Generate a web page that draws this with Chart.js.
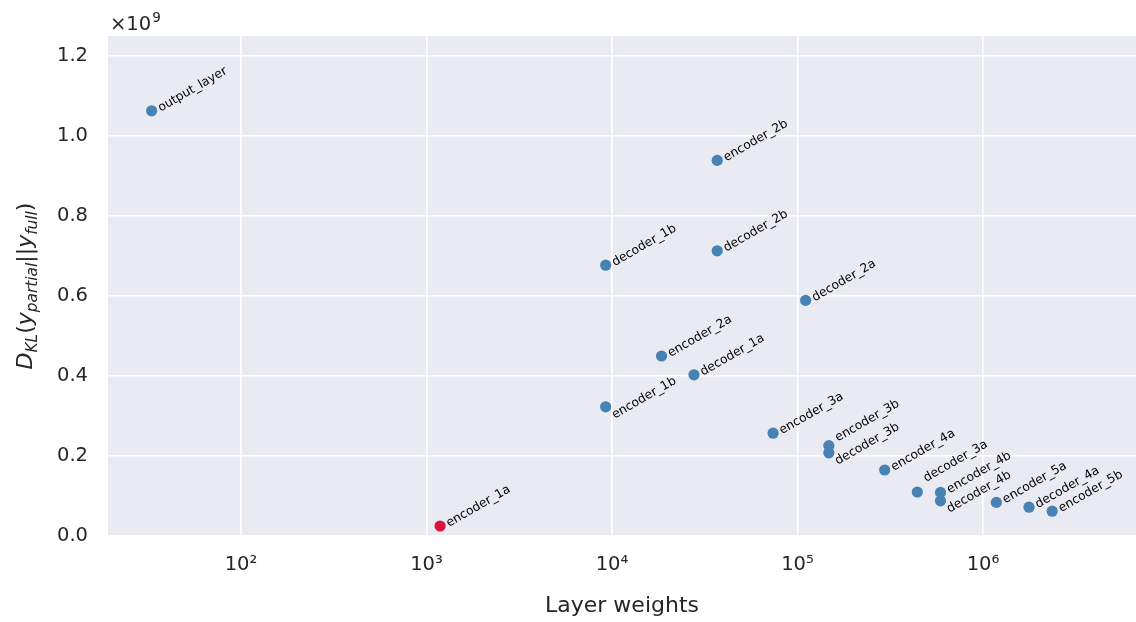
<!DOCTYPE html>
<html>
<head>
<meta charset="utf-8">
<script src="https://cdn.jsdelivr.net/npm/chart.js@4/dist/chart.umd.min.js"></script>
<style>
  html, body { margin: 0; padding: 0; background: #ffffff; }
  canvas { display: block; }
</style>
</head>
<body>
<canvas id="chart" width="1136" height="622"></canvas>
<script>
// Layers of the network, their parameter counts and the KL divergence
// between the partial and the full model output.
const layerNames = [
  'encoder_1a', 'encoder_1b', 'encoder_2a', 'encoder_2b', 'encoder_3a',
  'encoder_3b', 'encoder_4a', 'encoder_4b', 'encoder_5a', 'encoder_5b',
  'decoder_4a', 'decoder_4b', 'decoder_3a', 'decoder_3b', 'decoder_2a',
  'decoder_2b', 'decoder_1a', 'decoder_1b', 'output_layer'
];
const layerWeights = [
  1184, 9248, 18496, 36928, 73856,
  147584, 295168, 590080, 1180160, 2359808,
  1769728, 590080, 442496, 147584, 110656,
  36928, 27680, 9248, 33
];
const klDivergence = [
  0.025e9, 0.323e9, 0.450e9, 0.939e9, 0.257e9,
  0.226e9, 0.165e9, 0.109e9, 0.084e9, 0.062e9,
  0.072e9, 0.088e9, 0.110e9, 0.208e9, 0.589e9,
  0.713e9, 0.403e9, 0.677e9, 1.063e9
];
const highlightedLayer = 'encoder_1a';

const xTickValues = [1e2, 1e3, 1e4, 1e5, 1e6];
const xTickLabels = ['10²', '10³', '10⁴', '10⁵', '10⁶'];
const yTickValues = [0, 0.2e9, 0.4e9, 0.6e9, 0.8e9, 1.0e9, 1.2e9];
const yTickLabels = ['0.0', '0.2', '0.4', '0.6', '0.8', '1.0', '1.2'];
const yOffsetLabel = ['×10', '9'];
const xAxisTitle = 'Layer weights';
// D_KL(y_partial || y_full), drawn as math text
const yAxisTitle = [
  { t: 'D', italic: true },
  { t: 'KL', italic: true, sub: true },
  { t: '(', italic: false },
  { t: 'y', italic: true },
  { t: 'partial', italic: true, sub: true },
  { t: '||', italic: false },
  { t: 'y', italic: true },
  { t: 'full', italic: true, sub: true },
  { t: ')', italic: false }
];

// Styling
const FONT = '"DejaVu Sans", "Liberation Sans", sans-serif';
const TEXT = '#262626';
const BLUE = '#4682b4';
const RED = '#dc143c';
const PANEL = '#eaeaf2';
// vertical nudges for annotations that would otherwise collide
const labelNudge = {
  encoder_1b: 11, decoder_3b: 11, decoder_4b: 11,
  decoder_3a: -11, encoder_3b: -5
};

const panelBackground = {
  id: 'panelBackground',
  beforeDraw(chart) {
    const { ctx, chartArea: a } = chart;
    ctx.save();
    ctx.fillStyle = '#ffffff';
    ctx.fillRect(0, 0, chart.width, chart.height);
    ctx.fillStyle = PANEL;
    ctx.fillRect(a.left, a.top, a.right - a.left, a.bottom - a.top);
    ctx.restore();
  }
};

const annotations = {
  id: 'annotations',
  afterDatasetsDraw(chart) {
    const { ctx } = chart;
    const meta = chart.getDatasetMeta(0);
    ctx.save();
    ctx.fillStyle = '#000000';
    ctx.font = `12.3px ${FONT}`;
    ctx.textBaseline = 'alphabetic';
    ctx.textAlign = 'left';
    meta.data.forEach((pt, i) => {
      const name = layerNames[i];
      const dy = labelNudge[name] || 0;
      ctx.save();
      ctx.translate(pt.x + 9, pt.y + 1 + dy);
      ctx.rotate(-Math.PI / 6);
      ctx.fillText(name, 0, 0);
      ctx.restore();
    });
    ctx.restore();
  },
  afterDraw(chart) {
    const { ctx, chartArea: a } = chart;
    ctx.save();
    ctx.fillStyle = TEXT;

    // x axis title
    ctx.font = `22px ${FONT}`;
    ctx.textAlign = 'center';
    ctx.textBaseline = 'alphabetic';
    ctx.fillText(xAxisTitle, (a.left + a.right) / 2, 612);

    // offset label above the y axis
    ctx.textAlign = 'left';
    ctx.font = `19.5px ${FONT}`;
    ctx.fillText(yOffsetLabel[0], 110, 30);
    const w = ctx.measureText(yOffsetLabel[0]).width;
    ctx.font = `13.5px ${FONT}`;
    ctx.fillText(yOffsetLabel[1], 110 + w + 1, 22);

    // y axis title (rotated math text)
    const size = 22;
    const parts = yAxisTitle.map(s => {
      const fs = s.sub ? size * 0.7 : size;
      const font = `${s.italic ? 'italic ' : ''}${fs}px ${FONT}`;
      ctx.font = font;
      return { ...s, font, w: ctx.measureText(s.t).width };
    });
    const total = parts.reduce((acc, p) => acc + p.w, 0);
    ctx.translate(32, (a.top + a.bottom) / 2);
    ctx.rotate(-Math.PI / 2);
    let x = -total / 2;
    ctx.textAlign = 'left';
    for (const p of parts) {
      ctx.font = p.font;
      ctx.fillText(p.t, x, p.sub ? size * 0.22 : 0);
      x += p.w;
    }
    ctx.restore();
  }
};

new Chart(document.getElementById('chart').getContext('2d'), {
  type: 'scatter',
  data: {
    datasets: [{
      data: layerNames.map((n, i) => ({ x: layerWeights[i], y: klDivergence[i] })),
      pointRadius: 5.6,
      pointHoverRadius: 5.6,
      pointBorderWidth: 0,
      pointBackgroundColor: layerNames.map(n => n === highlightedLayer ? RED : BLUE)
    }]
  },
  options: {
    responsive: false,
    animation: false,
    devicePixelRatio: 1,
    layout: { autoPadding: false, padding: { top: 36, right: 0, bottom: 0, left: 0 } },
    plugins: { legend: { display: false }, tooltip: { enabled: false } },
    scales: {
      x: {
        type: 'logarithmic',
        min: 19.2,
        max: 6.68e6,
        afterBuildTicks: s => { s.ticks = xTickValues.map(v => ({ value: v })); },
        afterFit: s => { s.height = 86; s.paddingLeft = 0; s.paddingRight = 0; },
        grid: { color: '#ffffff', lineWidth: 1.6, drawTicks: false },
        border: { display: false },
        ticks: {
          autoSkip: false,
          maxRotation: 0,
          padding: 17,
          color: TEXT,
          font: { family: FONT, size: 19.5 },
          callback: (v, i) => xTickLabels[i]
        }
      },
      y: {
        type: 'linear',
        min: 0,
        max: 1.25e9,
        afterBuildTicks: s => { s.ticks = yTickValues.map(v => ({ value: v })); },
        afterFit: s => { s.width = 108; s.paddingTop = 0; s.paddingBottom = 0; },
        grid: { color: '#ffffff', lineWidth: 1.6, drawTicks: false },
        border: { display: false },
        ticks: {
          padding: 20,
          color: TEXT,
          font: { family: FONT, size: 19.5 },
          callback: (v, i) => yTickLabels[i]
        }
      }
    }
  },
  plugins: [panelBackground, annotations]
});
</script>
</body>
</html>
